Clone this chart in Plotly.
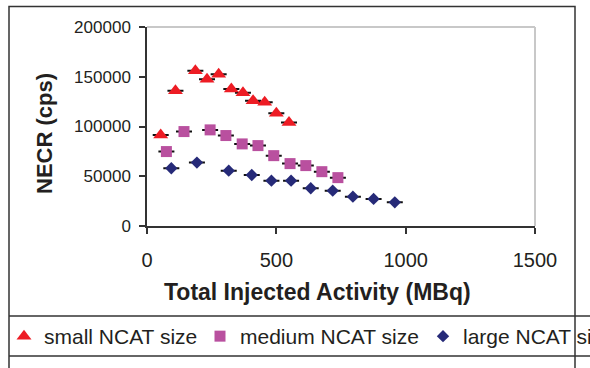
import plotly.graph_objects as go

# ---- data ----
small_x = [53, 110, 187, 232, 277, 326, 371, 410, 455, 500, 549]
small_y = [91500, 136000, 156000, 147500, 152600, 137800, 134000, 126000, 124400, 113400, 104000]
medium_x = [75, 143, 244, 305, 368, 429, 490, 553, 614, 676, 738]
medium_y = [74800, 94900, 96600, 90900, 82500, 80800, 70700, 62700, 60700, 54600, 48600]
large_x = [94, 193, 316, 405, 481, 557, 633, 718, 796, 876, 958]
large_y = [58000, 63700, 55600, 51300, 45600, 45600, 37900, 35500, 29500, 27200, 23800]
series_names = ["small NCAT size", "medium NCAT size", "large NCAT size"]
x_ticks = [0, 500, 1000, 1500]
y_ticks = [0, 50000, 100000, 150000, 200000]
y_tick_labels = ["0", "50000", "100000", "150000", "200000"]

# ---- layout geometry (pixels) ----
W, H = 590, 368
L, R, T, B = 147, 535, 27, 226


def xp(px):
    return (px - L) / (R - L)


def yp(py):
    return (B - py) / (B - T)


FONT = "Liberation Sans, Arial, sans-serif"
TXT = "#231f20"

fig = go.Figure()
styles = [
    (small_x, small_y, "triangle-up", 13, "#ed1c24"),
    (medium_x, medium_y, "square", 11, "#b9509f"),
    (large_x, large_y, "diamond", 9.5, "#262a78"),
]
legend_ids = ["legend", "legend2", "legend3"]
for (xs, ys, sym, size, col), name, lg in zip(styles, series_names, legend_ids):
    fig.add_trace(go.Scatter(
        x=xs, y=ys, mode="markers", name=name, legend=lg,
        marker=dict(symbol=sym, size=size, color=col, line=dict(width=0)),
        error_y=dict(type="constant", value=0, visible=True, color="#111111",
                     thickness=2, width=8),
    ))

legend_left_px = [4, 200, 423]


def legend_cfg(px):
    return dict(orientation="h", x=xp(px), y=yp(316), xanchor="left", yanchor="top",
                font=dict(family=FONT, size=21, color=TXT), bgcolor="rgba(0,0,0,0)",
                borderwidth=0)


fig.update_layout(
    width=W, height=H,
    margin=dict(l=L, r=W - R, t=T, b=H - B, autoexpand=False),
    paper_bgcolor="white", plot_bgcolor="white",
    font=dict(family=FONT, color=TXT),
    showlegend=True,
    legend=legend_cfg(legend_left_px[0]),
    legend2=legend_cfg(legend_left_px[1]),
    legend3=legend_cfg(legend_left_px[2]),
    xaxis=dict(range=[0, 1500], tickvals=x_ticks, showgrid=False, zeroline=False,
               showline=True, linecolor="#333333", linewidth=1.5,
               ticks="outside", ticklen=6, tickcolor="#333333", tickwidth=1.5,
               tickfont=dict(family=FONT, size=20, color=TXT), ticklabelstandoff=9),
    yaxis=dict(range=[0, 200000], tickvals=y_ticks, ticktext=y_tick_labels,
               showgrid=False, zeroline=False,
               showline=True, linecolor="#333333", linewidth=1.5,
               ticks="outside", ticklen=6, tickcolor="#333333", tickwidth=1.5,
               tickfont=dict(family=FONT, size=17, color=TXT), ticklabelstandoff=5),
)

fig.add_annotation(text="Total Injected Activity (MBq)", xref="paper", yref="paper",
                   x=xp(317), y=yp(292), showarrow=False, xanchor="center", yanchor="middle",
                   font=dict(family=FONT, size=23, color=TXT, weight="bold"))
fig.add_annotation(text="NECR (cps)", xref="paper", yref="paper",
                   x=xp(44), y=yp(134), showarrow=False, textangle=-90,
                   xanchor="center", yanchor="middle",
                   font=dict(family=FONT, size=22, color=TXT, weight="bold"))

# plot area light-grey frame (top, right)
fig.add_shape(type="line", xref="paper", yref="paper", x0=0, x1=1, y0=1, y1=1,
              line=dict(color="#c8c8c8", width=2))
fig.add_shape(type="line", xref="paper", yref="paper", x0=1, x1=1, y0=0, y1=1,
              line=dict(color="#c8c8c8", width=2))
# outer chart border
fig.add_shape(type="rect", xref="paper", yref="paper", x0=xp(9), x1=xp(575),
              y0=yp(380), y1=yp(6.5), line=dict(color="#333333", width=1.5),
              fillcolor="rgba(0,0,0,0)")
# legend box lines
for py in (316, 356):
    fig.add_shape(type="line", xref="paper", yref="paper", x0=xp(9), x1=xp(600),
                  y0=yp(py), y1=yp(py), line=dict(color="#333333", width=1.5))

fig.write_html("out.html", config={"displayModeBar": False},
               post_script="document.body.style.margin='0';document.body.style.overflow='hidden';")
